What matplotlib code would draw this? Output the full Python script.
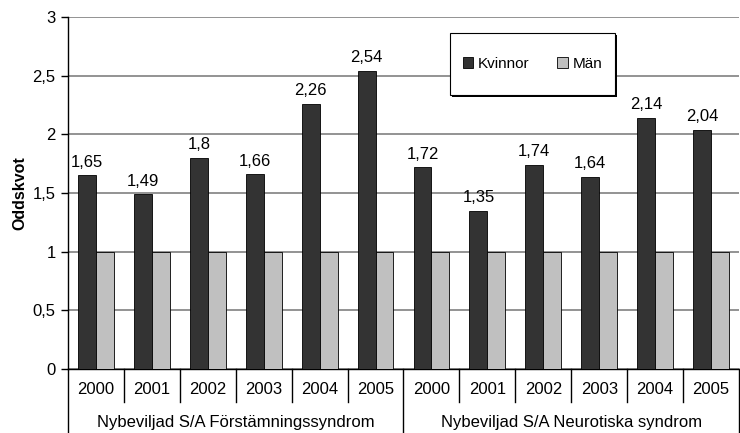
import matplotlib.pyplot as plt
from matplotlib.patches import Rectangle
from matplotlib.transforms import blended_transform_factory
import numpy as np

plt.rcParams['font.family'] = ['Liberation Sans', 'DejaVu Sans']

years = ['2000', '2001', '2002', '2003', '2004', '2005']
groups = ['Nybeviljad S/A Förstämningssyndrom', 'Nybeviljad S/A Neurotiska syndrom']
kvinnor = [1.65, 1.49, 1.8, 1.66, 2.26, 2.54, 1.72, 1.35, 1.74, 1.64, 2.14, 2.04]
man = [1, 1, 1, 1, 1, 1, 1, 1, 1, 1, 1, 1]
yticks = [0, 0.5, 1, 1.5, 2, 2.5, 3]

W, H = 740, 433
fig = plt.figure(figsize=(W / 100, H / 100), dpi=100)
ax = fig.add_axes([68 / W, 64 / H, 671 / W, 352 / H])

n = len(kvinnor)
x = np.arange(n)
w = 0.32
ax.bar(x - w / 2, kvinnor, w, color='#333333', edgecolor='black', linewidth=0.6,
       label='Kvinnor', zorder=3)
ax.bar(x + w / 2, man, w, color='#c0c0c0', edgecolor='black', linewidth=0.6,
       label='Män', zorder=3)

for xi, v in zip(x, kvinnor):
    lbl = f'{v:g}'.replace('.', ',')
    ax.annotate(lbl, (xi - w / 2, v), xytext=(0, 4), textcoords='offset points',
                ha='center', va='bottom', fontsize=12)

ax.set_xlim(-0.5, n - 0.5)
ax.set_ylim(0, 3)
ax.set_yticks(yticks)
ax.set_yticklabels([f'{t:g}'.replace('.', ',') for t in yticks], fontsize=12)
ax.yaxis.grid(True, color='#808080', linewidth=1.2, zorder=0)
ax.set_axisbelow(True)
ax.tick_params(axis='y', direction='out', length=5, width=1, pad=4)
ax.set_xticks([])
for s in ['top', 'right']:
    ax.spines[s].set_visible(False)
ax.spines['left'].set_linewidth(1)
ax.spines['bottom'].set_linewidth(1)
ax.set_ylabel('Oddskvot', fontsize=11.5, fontweight='bold')
ax.yaxis.set_label_coords(-41 / 671, 0.5)

# two-level category axis below the plot
trans = blended_transform_factory(ax.transData, ax.transAxes)
px = 1 / 352
for i in range(n):
    ax.text(i, -21 * px, years[i % 6], transform=trans, ha='center', va='center',
            fontsize=12)
for b in np.arange(-0.5, n, 1.0):
    bottom = -64 * px if b in (-0.5, 5.5, 11.5) else -33 * px
    ax.plot([b, b], [0, bottom], transform=trans, color='black', linewidth=1,
            clip_on=False)
for g, name in enumerate(groups):
    ax.text(g * 6 + 2.5, -53 * px, name, transform=trans, ha='center', va='center',
            fontsize=12)

# legend box with drop shadow
bx0, by0, bx1, by1 = 450, 33, 615, 95
fig.patches.append(Rectangle(((bx0 + 2) / W, 1 - (by1 + 2) / H), (bx1 - bx0) / W,
                             (by1 - by0) / H, transform=fig.transFigure,
                             facecolor='black', edgecolor='none', zorder=4))
fig.patches.append(Rectangle((bx0 / W, 1 - by1 / H), (bx1 - bx0) / W, (by1 - by0) / H,
                             transform=fig.transFigure, facecolor='white',
                             edgecolor='black', linewidth=0.8, zorder=5))
leg = fig.legend(loc='center', bbox_to_anchor=((bx0 + bx1) / 2 / W, 1 - (by0 + by1) / 2 / H),
                 ncol=2, fontsize=11, frameon=False, handlelength=0.7, handleheight=0.7,
                 handletextpad=0.3, columnspacing=1.8)
leg.set_zorder(6)

fig.savefig('out.png', dpi=100)
